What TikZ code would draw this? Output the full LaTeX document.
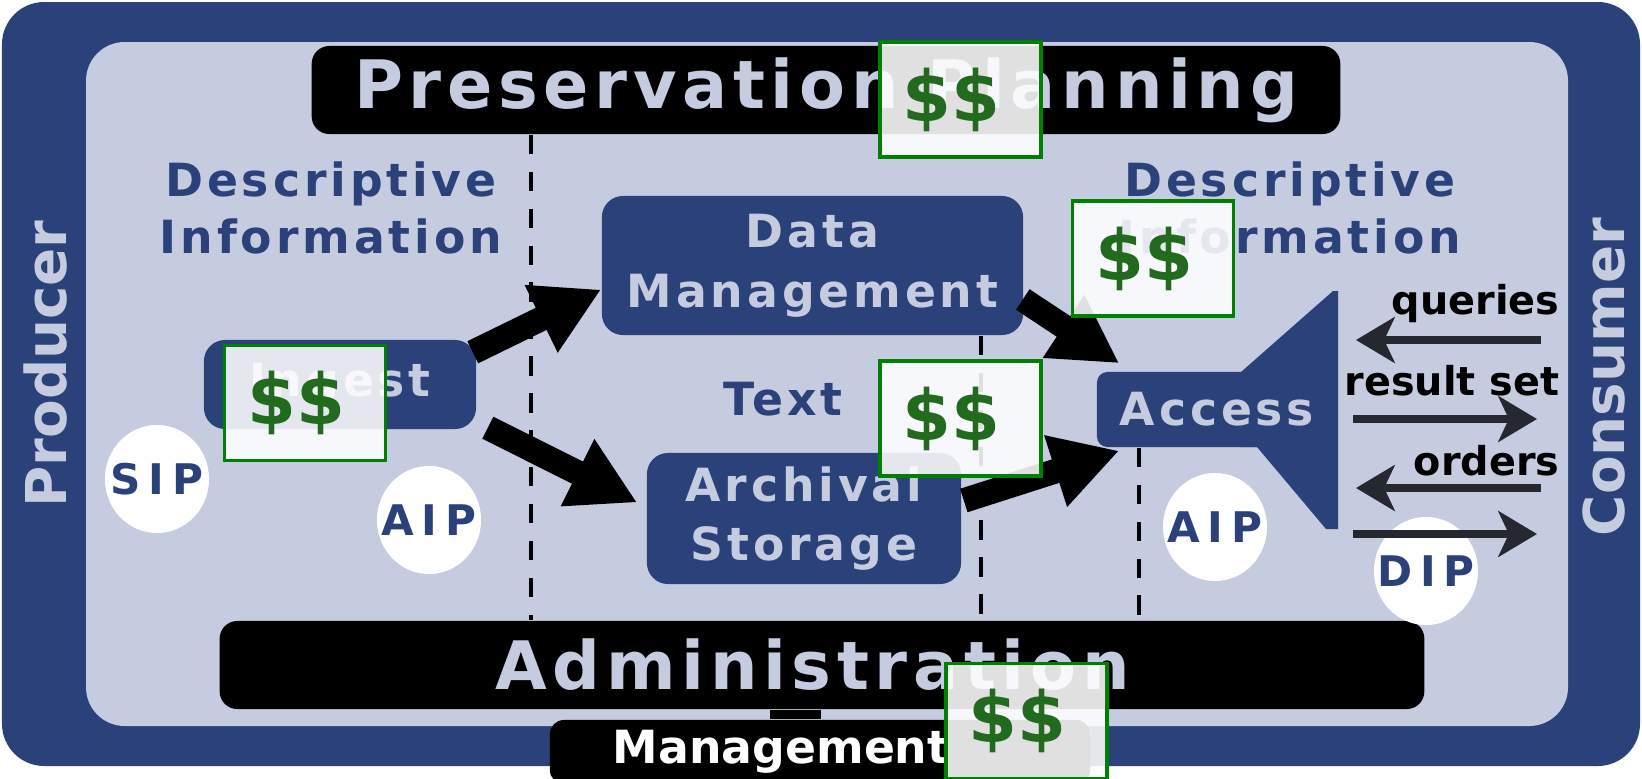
\documentclass[tikz,border=0pt]{standalone}
\usepackage{fontspec}
\usepackage{tikz}
\usetikzlibrary{arrows.meta,shapes.geometric}
\setmainfont{DejaVu Sans}
\newfontfamily\spacedfont[LetterSpace=8.5]{DejaVu Sans}
\newfontfamily\bubblefont[LetterSpace=18]{DejaVu Sans}
\definecolor{oaisblue}{RGB}{42,65,122}
\definecolor{oaispale}{RGB}{197,204,223}
\definecolor{cashgreen}{RGB}{0,128,0}
\definecolor{cashink}{RGB}{34,106,30}
\definecolor{sidegray}{RGB}{38,40,48}
\tikzset{
    func-box/.style = {fill=oaisblue, rounded corners=6pt, text=oaispale, align=center, inner sep=0pt, font=\spacedfont\bfseries\fontsize{13}{17}\selectfont},
    band-box/.style = {fill=black, rounded corners=5pt, text=oaispale, inner sep=0pt, font=\spacedfont\bfseries\fontsize{19}{22}\selectfont},
    info-text/.style = {text=oaisblue, align=center, inner sep=0pt, font=\spacedfont\bfseries\fontsize{13}{16.2}\selectfont},
    side-text/.style = {text=oaispale, rotate=90, inner sep=0pt, font=\bfseries\fontsize{16}{19}\selectfont},
    pkg-bubble/.style = {ellipse, fill=white, text=oaisblue, inner xsep=-0.15cm, inner ysep=0pt, minimum width=1.04cm, minimum height=1.08cm, font=\bubblefont\bfseries\fontsize{12}{14}\selectfont},
    flow-arrow/.style = {line width=7pt, -{Triangle[length=19pt, width=20pt]}},
    side-arrow/.style = {draw=sidegray, line width=2.3pt, -{Stealth[length=11pt, width=13pt, inset=3pt]}},
    side-label/.style = {anchor=east, inner sep=0pt, font=\bfseries\fontsize{11.3}{13}\selectfont},
    cut-line/.style = {line width=0.9pt, dash pattern=on 5.5pt off 5pt},
    cash-box/.style = {draw=cashgreen, line width=1pt, fill=white, fill opacity=0.88, text opacity=1, text=cashink, minimum width=1.61cm, minimum height=1.15cm, inner sep=0pt, font=\bfseries\fontsize{20}{24}\selectfont},
}

\begin{document}
\begin{tikzpicture}[x=0.01cm, y=-0.01cm]
\clip (0,0) rectangle (1642,778);
\fill[white] (0,0) rectangle (1642,778);
% frame
\fill[oaisblue, rounded corners=12pt] (2,2) rectangle (1640,766);
\fill[oaispale, rounded corners=11pt] (86,42) rectangle (1568,726);
\node[side-text] (producer) at (46,364) {Producer};
\node[side-text] (consumer) at (1604,377) {Consumer};

% bands
\node[band-box, minimum width=10.28cm, minimum height=0.88cm] (planning) at (826,90) {Preservation Planning};
\node[band-box, minimum width=12.04cm, minimum height=0.88cm] (admin) at (822,665) {Administration\kern5.4pt};
\node[band-box, text=white, rounded corners=4pt, align=left, text width=4.14cm, inner xsep=0.63cm, minimum height=0.64cm, font=\bfseries\fontsize{13}{16}\selectfont] (mgmt) at (820,752) {Management};
\coordinate (stem) at (795,700);
\draw[line width=14.5pt] (admin.south -| stem) -- (mgmt.north -| stem);

% functions
\node[func-box, minimum width=4.21cm, minimum height=1.39cm] (datamgmt) at (812.5,265.5) {Data\\Management};
\node[func-box, minimum width=2.72cm, minimum height=0.89cm] (ingest) at (340,384.5) {Ingest};
\node[func-box, minimum width=3.14cm, minimum height=1.31cm] (archive) at (804,518.5) {Archival\\Storage};
\fill[oaisblue] (1241,372) -- (1333,291) -- (1338,291) -- (1338,529) -- (1326,529) -- (1257,447) -- (1241,447) -- cycle;
\node[func-box, minimum width=2.40cm, minimum height=0.75cm, rounded corners=3pt] (access) at (1217,409.5) {Access};

% dashed cuts
\coordinate (cut-a) at (531,0);
\coordinate (cut-b) at (981,0);
\coordinate (cut-c) at (1139,0);
\draw[cut-line] (planning.south -| cut-a) -- (admin.north -| cut-a);
\draw[cut-line] (datamgmt.south -| cut-b) -- (admin.north -| cut-b);
\draw[cut-line] (access.south -| cut-c) -- (admin.north -| cut-c);

% labels
\node[info-text] (desc-in) at (331,208) {Descriptive\\Information};
\node[info-text] (desc-out) at (1290,208) {Descriptive\\Information};
\node[info-text] (text) at (783,399) {Text};

% flows
\draw[flow-arrow] ([shift={(-4,13)}]ingest.north east) -- ([shift={(0,24)}]datamgmt.west);
\draw[flow-arrow] ([shift={(11,-2)}]ingest.south east) -- ([shift={(-9,-16)}]archive.west);
\draw[flow-arrow] ([shift={(-1,34)}]datamgmt.east) -- ([shift={(23,-8)}]access.north west);
\draw[flow-arrow] ([shift={(2,-18)}]archive.east) -- ([shift={(23,3)}]access.south west);

% packages
\node[pkg-bubble] (sip) at (157,479) {SIP};
\node[pkg-bubble] (aip-in) at (429,520) {AIP};
\node[pkg-bubble] (aip-out) at (1215,527) {AIP};
\node[pkg-bubble] (dip) at (1426,571) {DIP};

% consumer side
\coordinate (queries-from) at (1541,340);
\coordinate (queries-to) at (1356,340);
\coordinate (results-from) at (1353,419);
\coordinate (results-to) at (1537,419);
\coordinate (orders-from) at (1541,488);
\coordinate (orders-to) at (1356,488);
\coordinate (dip-from) at (1353,534);
\coordinate (dip-to) at (1537,534);
\node[side-label] (queries) at (1560,304) {queries};
\node[side-label] (results) at (1560,381) {result set};
\node[side-label] (orders) at (1560,461) {orders};
\draw[side-arrow] (queries-from) -- (queries-to);
\draw[side-arrow] (results-from) -- (results-to);
\draw[side-arrow] (orders-from) -- (orders-to);
\draw[side-arrow] (dip-from) -- (dip-to);

% costs
\node[cash-box] (cash-plan) at (960.5,99.5) {\$\$\kern5pt};
\node[cash-box] (cash-desc) at (1153,258.5) {\$\$\kern5pt};
\node[cash-box] (cash-ingest) at (305,403) {\$\$\kern5pt};
\node[cash-box] (cash-store) at (960.5,418.5) {\$\$\kern5pt};
\node[cash-box] (cash-admin) at (1026.5,721) {\$\$\kern5pt};
\end{tikzpicture}
\end{document}
